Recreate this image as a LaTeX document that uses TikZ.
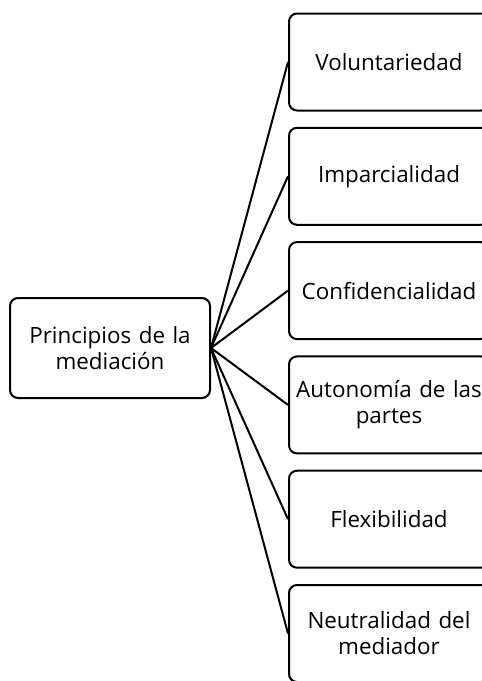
\documentclass[tikz,border=0pt]{standalone}
\usepackage{fontspec}
\setmainfont{Open Sans}
\usetikzlibrary{positioning}
\tikzset{
  principlebox/.style = {draw, line width=2pt, rounded corners=8pt, minimum width=200pt, inner sep=2pt,
    align=center, text width=194pt, font=\fontsize{22.4}{26}\selectfont},
  branchedge/.style = {line width=2pt},
}

\begin{document}
\begin{tikzpicture}[x=1pt, y=1pt]
\useasboundingbox (0,0) rectangle (482,-681);

% root
\node[principlebox, minimum height=100pt] (root) at (110,-348) {Principios de la\\mediación};

% principles
\foreach \i/\txt in {1/Voluntariedad, 2/Imparcialidad, 3/Confidencialidad,
                     4/{Autonomía de las\\partes}, 5/Flexibilidad, 6/{Neutralidad del\\mediador}} {
  \node[principlebox, minimum height=97pt] (p\i) at (389,{-62-114.3*(\i-1)}) {\txt};
  \draw[branchedge] (root.east) -- (p\i.west);
}

\end{tikzpicture}
\end{document}
